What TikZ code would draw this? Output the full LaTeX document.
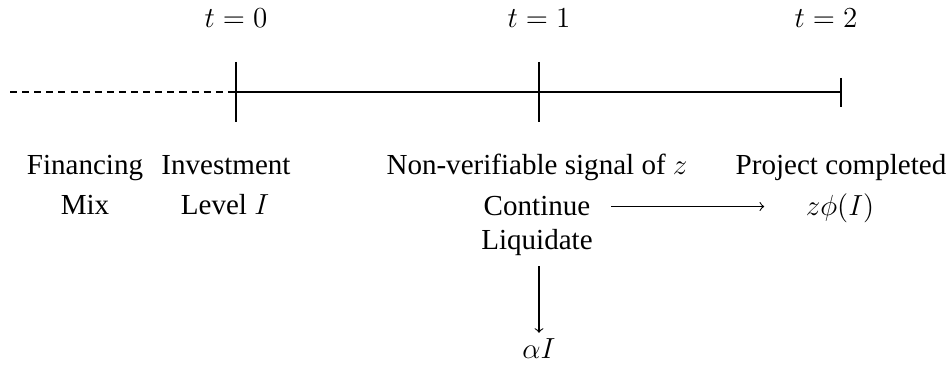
\documentclass[tikz,border=0pt]{standalone}
\usepackage[no-math]{fontspec}
\setmainfont{Liberation Serif}
\begin{document}
\fontsize{12}{14.5}\selectfont
\begin{tikzpicture}[x=0.413pt,y=-0.413pt,
  lbl/.style={inner sep=0pt, anchor=base, font=\fontsize{12}{14.5}\selectfont},
  axis/.style={line width=0.45pt},
  arr/.style={->, line width=0.45pt}]
\useasboundingbox (0,0) rectangle (952,374);
% timeline points
\coordinate (d0) at (10,92);
\coordinate (p0) at (236,92);
\coordinate (p1) at (539,92);
\coordinate (p2) at (841,92);
\coordinate (p0t) at (236,62);
\coordinate (p0b) at (236,122);
\coordinate (p1t) at (539,62);
\coordinate (p1b) at (539,122);
\coordinate (p2t) at (841,78);
\coordinate (p2b) at (841,107);
\draw[axis, dash pattern=on 2.9pt off 2.1pt] (d0) -- (p0);
\draw[axis] (p0) -- (p2);
\draw[axis] (p0t) -- (p0b);
\draw[axis] (p1t) -- (p1b);
\draw[axis] (p2t) -- (p2b);
% time labels
\node[lbl] (t0) at (236,28) {$t=0$};
\node[lbl] (t1) at (539,28) {$t=1$};
\node[lbl] (t2) at (826,28) {$t=2$};
% texts
\node[lbl] (fin) at (85,175) {Financing};
\node[lbl] (mix) at (85,215) {Mix};
\node[lbl] (inv) at (226,175) {Investment};
\node[lbl] (lev) at (225,215) {Level $I$};
\node[lbl] (sig) at (537,175) {Non-verifiable signal of $z$};
\node[lbl] (cont) at (537,216) {Continue};
\node[lbl] (liq) at (537,250) {Liquidate};
\node[lbl] (proj) at (841,175) {Project completed};
\node[lbl] (zphi) at (840,216) {$z\phi(I)$};
\node[lbl] (aI) at (539,358) {$\alpha I$};
% arrows
\draw[arr, shorten <=8.5pt, shorten >=17pt] (cont.east) -- (cont.east -| zphi.west);
\draw[arr, shorten <=4pt, shorten >=2pt] (liq.south -| aI.north) -- (aI.north);
\end{tikzpicture}
\end{document}
